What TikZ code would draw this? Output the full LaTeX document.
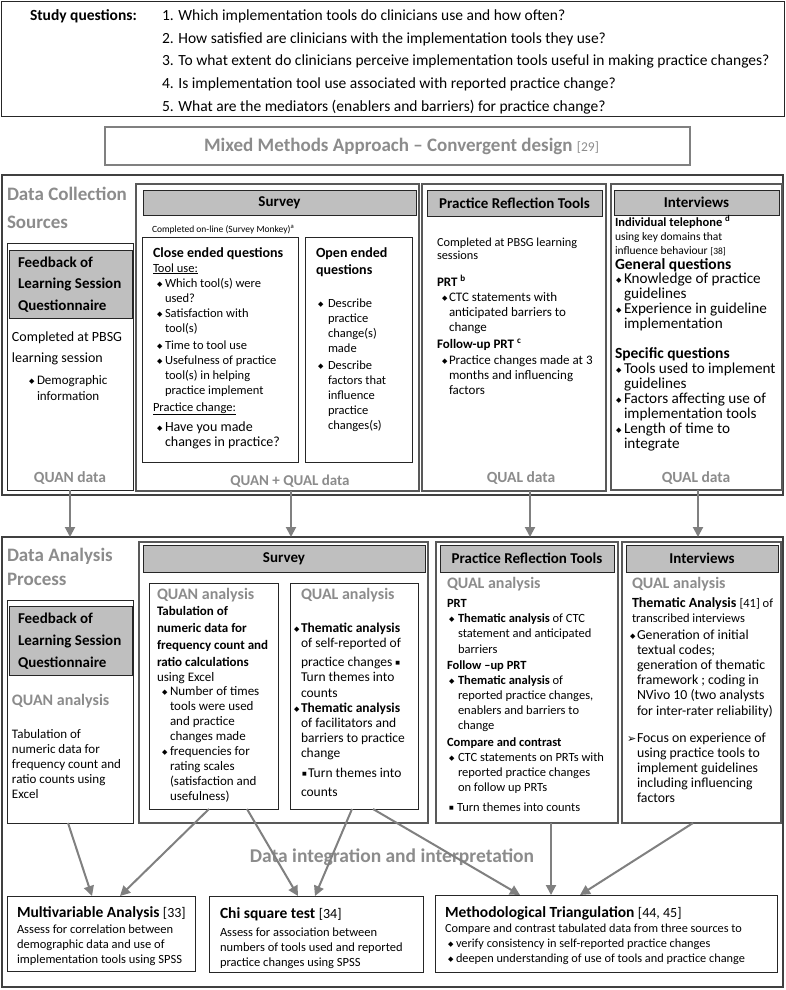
\documentclass[tikz,border=0pt]{standalone}
\usepackage{fontspec}
\setmainfont{Carlito}
\newfontfamily\dejavu{DejaVu Sans}
\usetikzlibrary{arrows.meta}
\definecolor{hdr}{RGB}{191,191,191}
\definecolor{gtxt}{RGB}{140,140,140}
\definecolor{arrc}{RGB}{128,128,128}
\newcommand\fs[1]{\fontsize{#1}{#1}\selectfont}
\newcommand\bul{{\dejavu\fontsize{7}{7}\selectfont\raisebox{0.25ex}{◆}}}
\newcommand\sqb{{\dejavu\fontsize{5}{5}\selectfont\raisebox{0.6ex}{■}}}
\newcommand\arb{{\dejavu\fontsize{11}{11}\selectfont ➢}}
\newcommand\TL[6]{\foreach \myt [count=\idx from 0] in {#6}{\node[tl,#2] (#1\idx) at (#3,{#4+\idx*#5}) {\myt};}}
\newcommand\BX[6]{\node[#2,anchor=north west,minimum width={(#5)-(#3)},minimum height={(#6)-(#4)}] (#1) at (#3,#4) {};}
\newcommand\BU[4][\bul]{\node[tl] (#2) at (#3,#4) {#1};}
\begin{document}
\begin{tikzpicture}[x=1pt,y=-1pt,
 tl/.style={anchor=base west,inner sep=0pt,outer sep=0pt},
 box/.style={draw=black!85,line width=0.9pt,inner sep=0pt,outer sep=0pt},
 hbox/.style={box,fill=hdr},
 cbox/.style={draw=black!65,line width=1.4pt,inner sep=0pt,outer sep=0pt},
 obox/.style={draw=black!75,line width=1.2pt,inner sep=0pt,outer sep=0pt},
 mbox/.style={draw=black!50,line width=1.4pt,inner sep=0pt,outer sep=0pt},
 gt/.style={text=gtxt,font=\fs{#1}\bfseries},
 hd/.style={font=\fs{15}\bfseries,inner sep=0pt},
 arr/.style={draw=arrc,line width=2pt,-{Triangle[length=10pt,width=10pt]}}]
\fill[white] (0,0) rectangle (785,990);
\useasboundingbox (0,0) rectangle (785,990);

% ---------- study questions
\BX{qbox}{box}{1}{1}{784}{116}
\node[tl,font=\fs{15.5}\bfseries] (sqh) at (30,21) {Study questions:};
\TL{sq}{font=\fs{15.5}}{162}{21}{22.5}{{1. Which implementation tools do clinicians use and how often?},{2. How satisfied are clinicians with the implementation tools they use?},{3. To what extent do clinicians perceive implementation tools useful in making practice changes?},{4. Is implementation tool use associated with reported practice change?},{5. What are the mediators (enablers and barriers) for practice change?}}

% ---------- mixed methods
\BX{mm}{mbox}{105}{127}{690}{165}
\node[text=gtxt,font=\fs{19}\bfseries,inner sep=0pt] (mmt) at ([xshift=4pt]mm.center) {Mixed Methods Approach – Convergent design {\fs{13.5}\mdseries[29]}};

% ---------- data collection
\BX{dc}{obox}{2}{175}{783}{495}
\TL{dct}{gt=19}{7}{200}{28}{{Data Collection},{Sources}}

\BX{fbc}{box}{7}{243}{133}{490}
\BX{fbch}{hbox}{9}{250}{132}{318}
\TL{fbct}{font=\fs{15}\bfseries}{18}{267}{21.5}{{Feedback of},{Learning Session},{Questionnaire}}
\TL{fbcc}{font=\fs{14}}{12}{341}{21}{{Completed at PBSG},{learning session}}
\BU{fbcb}{29}{384}
\TL{fbcd}{font=\fs{13}}{37}{384}{16}{{Demographic},{information}}
\node[tl,gt=15.5,anchor=base] (fbcq) at (70,482) {QUAN data};

\BX{svc}{cbox}{136}{184}{419}{491}
\BX{svch}{hbox}{143}{190}{416}{215}
\node[hd] (svct) at (svch.center) {Survey};
\node[tl,font=\fs{9.5}] (svcc) at (152,232) {Completed on-line (Survey Monkey)\textsuperscript{a}};
\BX{ceq}{box}{142}{237}{298}{462}
\BX{oeq}{box}{305}{237}{412}{462}
\node[tl,font=\fs{14}\bfseries] (ceqh) at (153,257) {Close ended questions};
\node[tl,font=\fs{12.5}] (ceqt) at (153,272) {\underline{Tool use:}};
\BU{ceb1}{157}{287} \BU{ceb2}{157}{317} \BU{ceb3}{157}{349} \BU{ceb4}{157}{364} \BU{ceb5}{157}{431}
\TL{cei1}{font=\fs{12.5}}{165}{287}{15}{{Which tool(s) were},{used?},{Satisfaction with},{tool(s)}}
\node[tl,font=\fs{12.5}] (cei2) at (165,349) {Time to tool use};
\TL{cei3}{font=\fs{12.5}}{165}{364}{15.3}{{Usefulness of practice},{tool(s) in helping},{practice implement}}
\node[tl,font=\fs{12.5}] (ceqp) at (153,411) {\underline{Practice change:}};
\TL{cei4}{font=\fs{14}}{165}{431}{15.5}{{Have you made},{changes in practice?}}
\TL{oeqh}{font=\fs{14}\bfseries}{316}{257}{17}{{Open ended},{questions}}
\BU{oeb1}{318}{307} \BU{oeb2}{318}{369}
\TL{oei1}{font=\fs{12.5}}{328}{307}{15}{{Describe},{practice},{change(s)},{made}}
\TL{oei2}{font=\fs{12.5}}{328}{369}{15.2}{{Describe},{factors that},{influence},{practice},{changes(s)}}
\node[tl,gt=15,anchor=base] (svcq) at (290,485) {QUAN + QUAL data};

\BX{prc}{cbox}{422}{184}{606}{491}
\BX{prch}{hbox}{427}{190}{602}{216}
\node[hd] (prct) at (prch.center) {Practice Reflection Tools};
\TL{prcc}{font=\fs{12.3}}{437}{246}{13.5}{{Completed at PBSG learning},{sessions}}
\node[tl,font=\fs{13}\bfseries] (prcp) at (437,286) {PRT \textsuperscript{b}};
\BU{prb1}{442}{301}
\TL{prci1}{font=\fs{13}}{449}{301}{15}{{CTC statements with},{anticipated barriers to},{change}}
\node[tl,font=\fs{13}\bfseries] (prcf) at (437,348) {Follow-up PRT \textsuperscript{c}};
\BU{prb2}{442}{364}
\TL{prci2}{font=\fs{13}}{449}{364}{15}{{Practice changes made at 3},{months and influencing},{factors}}
\node[tl,gt=15.5,anchor=base] (prcq) at (521,482) {QUAL data};

\BX{ivc}{cbox}{611}{184}{782}{490}
\BX{ivch}{hbox}{614}{190}{779}{215}
\node[hd] (ivct) at (ivch.center) {Interviews};
\node[tl,font=\fs{12.5}\bfseries] (ivci) at (615,226) {Individual telephone \textsuperscript{d}};
\TL{ivcu}{font=\fs{11.5}}{615}{240}{14}{{using key domains that},{influence behaviour {\fs{9.5}[38]}}}
\node[tl,font=\fs{15.5}\bfseries] (ivcg) at (615,269) {General questions};
\BU{ivb1}{616}{283} \BU{ivb2}{616}{313}
\TL{ivg}{font=\fs{15.2}}{624}{283}{15}{{Knowledge of practice},{guidelines},{Experience in guideline},{implementation}}
\node[tl,font=\fs{15.5}\bfseries] (ivcs) at (615,358) {Specific questions};
\BU{ivb3}{616}{373} \BU{ivb4}{616}{403} \BU{ivb5}{616}{433}
\TL{ivs}{font=\fs{15.2}}{624}{373}{15}{{Tools used to implement},{guidelines},{Factors affecting use of},{implementation tools},{Length of time to},{integrate}}
\node[tl,gt=15.5,anchor=base] (ivcq) at (696,482) {QUAL data};

% ---------- data analysis
\BX{da}{obox}{2}{537}{783}{987}
\TL{dat}{gt=19}{7}{561}{24}{{Data Analysis},{Process}}

\coordinate (t1) at (fbc.south);
\coordinate (t2) at ([xshift=13.5pt]svc.south);
\coordinate (t3) at ([xshift=16pt]prc.south);
\coordinate (t4) at ([xshift=1.5pt]ivc.south);
\foreach \c in {t1,t2,t3,t4} \draw[arr] (\c) -- (\c |- da.north);

\BX{fba}{box}{7}{600}{133}{823}
\BX{fbah}{hbox}{9}{606}{132}{675}
\TL{fbat}{font=\fs{15}\bfseries}{18}{623}{22}{{Feedback of},{Learning Session},{Questionnaire}}
\node[tl,gt=16] (fbaq) at (12,705) {QUAN analysis};
\TL{fbai}{font=\fs{13}}{12}{738}{15}{{Tabulation of},{numeric data for},{frequency count and},{ratio counts using},{Excel}}

\BX{sva}{cbox}{139}{542}{428}{823}
\BX{svah}{hbox}{143}{545}{425}{572}
\node[hd] (svat) at (svah.center) {Survey};
\BX{qna}{box}{149}{583}{278}{809}
\BX{qla}{box}{290}{583}{418}{809}
\node[tl,gt=16] (qnah) at (157,599) {QUAN analysis};
\TL{qnab}{font=\fs{13}\bfseries}{157}{615}{17.3}{{Tabulation of},{numeric data for},{frequency count and},{ratio calculations}}
\node[tl,font=\fs{13}] (qnau) at (157,681) {using Excel};
\BU{qnb1}{162}{695} \BU{qnb2}{162}{755}
\TL{qnai}{font=\fs{13}}{170}{695}{15}{{Number of times},{tools were used},{and practice},{changes made},{frequencies for},{rating scales},{(satisfaction and},{usefulness)}}
\node[tl,gt=16] (qlah) at (301,599) {QUAL analysis};
\BU{qlb1}{294}{632} \BU{qlb2}{294}{712}
\TL{qla1}{font=\fs{13.5}}{301}{632}{15}{{\textbf{Thematic analysis}},{of self-reported of}}
\TL{qla2}{font=\fs{13.5}}{301}{666}{15.5}{{practice changes \sqb},{Turn themes into},{counts}}
\TL{qla3}{font=\fs{13.5}}{301}{712}{15.3}{{\textbf{Thematic analysis}},{of facilitators and},{barriers to practice},{change}}
\BU[\sqb]{qls}{302}{777}
\node[tl,font=\fs{13.5}] (qla4) at (308,777) {Turn themes into};
\node[tl,font=\fs{13.5}] (qla5) at (301,796) {counts};

\BX{pra}{cbox}{436}{542}{618}{823}
\BX{prah}{hbox}{440}{545}{614}{572}
\node[hd] (prat) at (prah.center) {Practice Reflection Tools};
\node[tl,gt=16] (prq) at (447,588) {QUAL analysis};
\node[tl,font=\fs{12.5}\bfseries] (prap) at (447,607) {PRT};
\BU{prab1}{449}{622}
\TL{pra1}{font=\fs{12.5}}{458}{622}{15.5}{{\textbf{Thematic analysis} of CTC},{statement and anticipated},{barriers}}
\node[tl,font=\fs{12.5}\bfseries] (praf) at (447,669) {Follow –up PRT};
\BU{prab2}{449}{684}
\TL{pra2}{font=\fs{12.5}}{458}{684}{15.3}{{\textbf{Thematic analysis} of},{reported practice changes,},{enablers and barriers to},{change}}
\node[tl,font=\fs{12.5}\bfseries] (prac) at (447,746) {Compare and contrast};
\BU{prab3}{449}{761}
\TL{pra3}{font=\fs{12.5}}{458}{761}{15}{{CTC statements on PRTs with},{reported practice changes},{on follow up PRTs}}
\BU[\sqb]{prab4}{449}{811}
\node[tl,font=\fs{12.5}] (pra4) at (457,811) {Turn themes into counts};

\BX{iva}{cbox}{622}{542}{781}{823}
\BX{ivah}{hbox}{626}{545}{778}{572}
\node[hd] (ivat) at (ivah.center) {Interviews};
\node[tl,gt=16] (ivq) at (632,588) {QUAL analysis};
\node[tl,font=\fs{14}] (ivat1) at (632,607) {\textbf{Thematic Analysis} {\fs{12.5}[41] of}};
\node[tl,font=\fs{12.5}] (ivat2) at (632,622) {transcribed interviews};
\BU{ivab1}{630}{639}
\TL{iva1}{font=\fs{13.8}}{637}{639}{15.2}{{Generation of initial},{textual codes;},{generation of thematic},{framework ; coding in},{NVivo 10 (two analysts},{for inter-rater reliability)}}
\node[tl] (ivaa) at (627,742) {\arb};
\TL{iva2}{font=\fs{13.8}}{637}{742}{15}{{Focus on experience of},{using practice tools to},{implement guidelines},{including influencing},{factors}}

\node[gt=19.5,inner sep=0pt,anchor=base] (dii) at (392,862) {Data integration and interpretation};

% ---------- bottom boxes
\BX{mva}{box}{7}{896}{195}{971}
\node[tl,font=\fs{15.5}\bfseries] (mvah) at (17,917) {Multivariable Analysis {\fs{14}\mdseries[33]}};
\TL{mvai}{font=\fs{12.5}}{17}{933}{15}{{Assess for correlation between},{demographic data and use of},{implementation tools using SPSS}}
\BX{chi}{box}{209}{896}{423}{972}
\node[tl,font=\fs{15.5}\bfseries] (chih) at (220,918) {Chi square test {\fs{14}\mdseries[34]}};
\TL{chii}{font=\fs{12.5}}{220}{936}{15}{{Assess for association between},{numbers of tools used and reported},{practice changes using SPSS}}
\BX{mtr}{box}{435}{895}{777}{972}
\node[tl,font=\fs{15.5}\bfseries] (mtrh) at (445,917) {Methodological Triangulation {\fs{14}\mdseries[44, 45]}};
\node[tl,font=\fs{12.3}] (mtri) at (445,932) {Compare and contrast tabulated data from three sources to};
\BU{mtb1}{448}{947} \BU{mtb2}{448}{962}
\TL{mtrb}{font=\fs{12.3}}{456}{947}{15}{{verify consistency in self-reported practice changes},{deepen understanding of use of tools and practice change}}

% ---------- arrows to bottom boxes
\coordinate (s1) at ([xshift=-2pt]fba.south);  \coordinate (e1) at ([xshift=-9pt]mva.north);
\coordinate (s2) at ([xshift=-4.5pt]qna.south); \coordinate (e2) at ([xshift=19pt]mva.north);
\coordinate (s3) at ([xshift=33.5pt]qna.south); \coordinate (e3) at ([xshift=-18pt]chi.north);
\coordinate (s4) at ([xshift=-2pt]qla.south);  \coordinate (e4) at ([xshift=-1pt]chi.north);
\coordinate (s5) at ([xshift=19pt]qla.south);  \coordinate (e5) at ([xshift=-86pt]mtr.north);
\coordinate (s6) at ([xshift=24pt]pra.south);  \coordinate (e6) at ([xshift=-55pt]mtr.north);
\coordinate (s7) at ([xshift=-8.5pt]iva.south); \coordinate (e7) at ([xshift=-26pt]mtr.north);
\foreach \n in {1,...,7} \draw[arr] (s\n) -- (e\n);
\end{tikzpicture}
\end{document}
